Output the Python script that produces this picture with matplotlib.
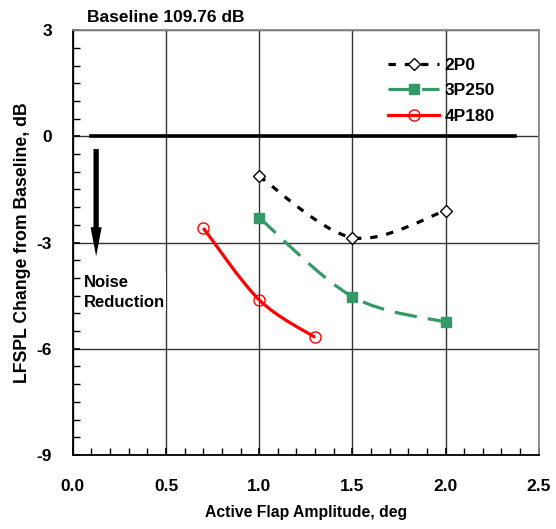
import matplotlib
matplotlib.use("Agg")
import matplotlib.pyplot as plt
from matplotlib.path import Path
from matplotlib.patches import PathPatch
from matplotlib.lines import Line2D
from matplotlib.ticker import MultipleLocator

plt.rcParams['font.family'] = ['Liberation Sans', 'DejaVu Sans']
plt.rcParams['font.weight'] = 'bold'
plt.rcParams['axes.unicode_minus'] = False

# Data
amp_2p0 = [1.0, 1.5, 2.0]
spl_2p0 = [-1.13, -2.86, -2.10]
amp_3p250 = [1.0, 1.5, 2.0]
spl_3p250 = [-2.30, -4.53, -5.25]
amp_4p180 = [0.7, 1.0, 1.3]
spl_4p180 = [-2.59, -4.62, -5.68]

GREEN = "#339966"
RED = "#ff0000"


def smooth_path(xs, ys):
    # Excel-style smoothed line: cubic Bezier segments through the points
    pts = list(zip(xs, ys))
    n = len(pts)
    verts = [pts[0]]
    codes = [Path.MOVETO]
    for i in range(n - 1):
        p0 = pts[max(i - 1, 0)]
        p1 = pts[i]
        p2 = pts[i + 1]
        p3 = pts[min(i + 2, n - 1)]
        c1 = (p1[0] + (p2[0] - p0[0]) / 6, p1[1] + (p2[1] - p0[1]) / 6)
        c2 = (p2[0] - (p3[0] - p1[0]) / 6, p2[1] - (p3[1] - p1[1]) / 6)
        verts += [c1, c2, p2]
        codes += [Path.CURVE4] * 3
    return Path(verts, codes)


fig = plt.figure(figsize=(5.56, 5.29), dpi=100)
ax = fig.add_axes([0.131, 0.140, 0.838, 0.803])

series = [
    ("2P0", amp_2p0, spl_2p0, "black", (0, (2.3, 2.8)), dict(marker="D", ms=6.5, mfc="white", mec="black", mew=1.0)),
    ("3P250", amp_3p250, spl_3p250, GREEN, (0, (7, 3.5)), dict(marker="s", ms=7, mfc=GREEN, mec=GREEN, mew=1.0)),
    ("4P180", amp_4p180, spl_4p180, RED, "-", dict(marker="o", ms=8, mfc="none", mec=RED, mew=1.0)),
]

handles = []
for name, xs, ys, color, ls, mk in series:
    patch = PathPatch(smooth_path(xs, ys), facecolor="none", edgecolor=color,
                      lw=2.3, linestyle=ls, zorder=3)
    ax.add_patch(patch)
    ax.plot(xs, ys, linestyle="none", zorder=4, **mk)
    handles.append(Line2D([], [], color=color, lw=2.3, linestyle=ls, label=name, **mk))

# baseline reference and noise-reduction arrow
ax.plot([0.1, 2.37], [0, 0], color="black", lw=2.6, zorder=2)
ax.annotate("", xy=(0.125, -3.47), xytext=(0.125, -0.28),
            arrowprops=dict(arrowstyle="simple,head_width=0.8,head_length=2.1,tail_width=0.38",
                            color="black", lw=0), zorder=3)
ax.text(0.06, -4.4, "Noise\nReduction", fontsize=12, fontweight="bold", va="center",
        ha="left", linespacing=1.4, zorder=3,
        bbox=dict(facecolor="white", edgecolor="none", pad=1))

ax.set_xlim(0, 2.5)
ax.set_ylim(-9, 3)
ax.set_xticks([0, 0.5, 1.0, 1.5, 2.0, 2.5])
ax.set_xticklabels(["0.0", "0.5", "1.0", "1.5", "2.0", "2.5"])
ax.set_yticks([-9, -6, -3, 0, 3])
ax.xaxis.set_minor_locator(MultipleLocator(0.1))
ax.yaxis.set_minor_locator(MultipleLocator(0.5))
ax.tick_params(which="both", direction="in", top=False, right=False, labelsize=12.5)
ax.tick_params(which="major", length=5, width=1.2)
ax.tick_params(which="minor", length=5, width=1.0)
ax.tick_params(axis="x", pad=17)
ax.tick_params(axis="y", pad=15)
ax.grid(True, which="major", color="#333333", lw=1.0)
for side in ["left", "bottom"]:
    ax.spines[side].set_color("black")
    ax.spines[side].set_linewidth(1.3)
for side in ["top", "right"]:
    ax.spines[side].set_color("#888888")
    ax.spines[side].set_linewidth(1.3)

ax.set_xlabel("Active Flap Amplitude, deg", fontsize=11.3, fontweight="bold", labelpad=8)
ax.set_ylabel("LFSPL Change from Baseline, dB", fontsize=12.7, fontweight="bold")
ax.yaxis.set_label_coords(-0.09, 0.5)
ax.text(0.03, 1.012, "Baseline 109.76 dB", transform=ax.transAxes, fontsize=12.5,
        fontweight="bold", ha="left", va="bottom")

leg = ax.legend(handles=handles, loc="upper right", bbox_to_anchor=(0.94, 0.972),
                frameon=False, handlelength=2.9, handletextpad=0.35,
                labelspacing=0.6, prop={"weight": "bold", "size": 12.5})

fig.savefig("out.png", dpi=100)
